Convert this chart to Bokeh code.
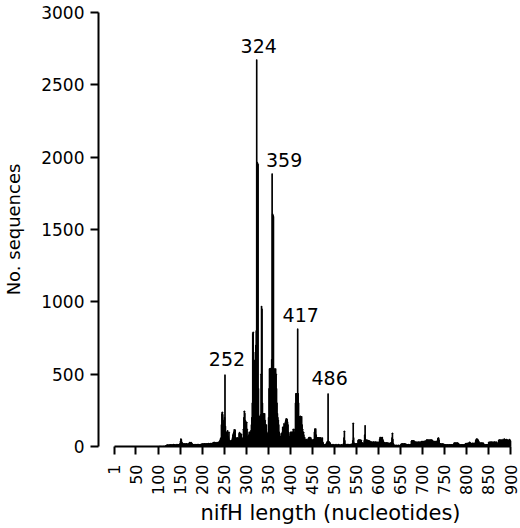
import math
from bokeh.plotting import figure
from bokeh.models import Range1d, FixedTicker, ColumnDataSource, Title
from bokeh.core.properties import value
from bokeh.embed import file_html
from bokeh.resources import INLINE

# ---- data: number of sequences per nifH length (nucleotides) ----
counts_101_200 = [
    0, 0, 1, 0, 0, 1, 0, 0, 1, 0,
    0, 1, 0, 1, 0, 1, 2, 6, 8, 10,
    9, 12, 10, 8, 11, 12, 10, 9, 13, 10,
    12, 11, 9, 12, 14, 10, 11, 13, 12, 10,
    9, 12, 14, 11, 10, 12, 13, 11, 15, 20,
    35, 53, 48, 30, 22, 18, 18, 16, 20, 17,
    19, 15, 18, 20, 16, 18, 17, 15, 19, 18,
    24, 28, 27, 26, 29, 25, 22, 12, 14, 11,
    13, 12, 10, 14, 12, 11, 13, 12, 15, 11,
    12, 14, 13, 12, 11, 13, 14, 15, 16, 18,
]
counts_201_300 = [
    18, 17, 19, 16, 18, 20, 17, 19, 18, 16,
    20, 19, 18, 17, 21, 19, 18, 20, 22, 19,
    18, 21, 20, 22, 26, 28, 27, 29, 28, 26,
    25, 22, 25, 28, 24, 27, 30, 26, 32, 38,
    45, 55, 60, 150, 226, 237, 220, 180, 150, 120,
    200, 495, 140, 100, 99, 95, 99, 110, 70, 60,
    99, 45, 39, 35, 39, 30, 45, 39, 60, 80,
    90, 100, 117, 110, 115, 60, 62, 55, 40, 45,
    62, 55, 50, 90, 97, 80, 90, 70, 85, 60,
    53, 50, 60, 120, 200, 244, 230, 180, 150, 168,
]
counts_301_400 = [
    168, 120, 62, 70, 62, 80, 100, 95, 100, 90,
    110, 150, 200, 300, 780, 790, 650, 594, 580, 594,
    600, 700, 800, 2673, 1965, 1960, 1950, 400, 203, 200,
    210, 203, 220, 500, 968, 950, 300, 228, 228, 228,
    200, 228, 180, 150, 120, 150, 100, 90, 62, 80,
    200, 400, 537, 537, 537, 540, 537, 600, 1885, 1608,
    1600, 1590, 537, 530, 537, 520, 537, 500, 400, 300,
    228, 200, 180, 150, 100, 90, 62, 70, 62, 90,
    80, 100, 134, 120, 134, 159, 140, 150, 170, 184,
    193, 184, 190, 170, 150, 100, 90, 62, 70, 62,
]
counts_401_500 = [
    99, 99, 99, 80, 99, 99, 120, 99, 90, 99,
    120, 300, 366, 366, 366, 366, 813, 366, 300, 207,
    207, 207, 210, 207, 200, 207, 150, 120, 99, 99,
    80, 62, 62, 48, 40, 45, 50, 48, 40, 45,
    55, 60, 64, 60, 64, 50, 60, 46, 40, 46,
    40, 46, 44, 50, 100, 122, 110, 122, 80, 62,
    60, 62, 50, 60, 62, 55, 60, 62, 40, 60,
    50, 45, 60, 30, 20, 15, 12, 10, 12, 15,
    12, 20, 25, 30, 37, 364, 37, 30, 30, 25,
    20, 14, 10, 12, 8, 10, 14, 12, 9, 11,
]
counts_501_600 = [
    10, 12, 8, 14, 10, 7, 12, 9, 11, 14,
    8, 10, 12, 9, 7, 11, 13, 10, 8, 12,
    20, 60, 106, 40, 14, 12, 14, 10, 12, 15,
    11, 9, 14, 12, 10, 13, 15, 11, 12, 16,
    20, 40, 161, 60, 25, 18, 20, 18, 15, 20,
    17, 19, 16, 40, 46, 44, 46, 42, 46, 38,
    44, 30, 23, 25, 20, 22, 24, 40, 80, 145,
    46, 40, 46, 39, 42, 44, 39, 40, 36, 39,
    35, 30, 28, 32, 30, 26, 31, 29, 33, 30,
    27, 30, 32, 28, 30, 29, 31, 27, 30, 28,
]
counts_601_700 = [
    28, 30, 50, 64, 60, 64, 58, 62, 64, 50,
    40, 30, 25, 28, 22, 26, 24, 20, 27, 23,
    25, 21, 24, 22, 20, 23, 21, 25, 22, 30,
    60, 92, 50, 20, 15, 8, 7, 9, 6, 8,
    7, 10, 6, 7, 8, 9, 7, 6, 8, 10,
    12, 18, 15, 20, 17, 19, 16, 18, 20, 15,
    18, 17, 16, 12, 10, 13, 11, 12, 14, 10,
    12, 11, 13, 15, 35, 41, 38, 41, 36, 40,
    39, 33, 30, 28, 32, 30, 27, 31, 29, 30,
    28, 32, 30, 26, 31, 29, 30, 35, 33, 36,
]
counts_701_800 = [
    34, 36, 33, 35, 37, 34, 35, 38, 44, 46,
    42, 46, 45, 43, 46, 44, 41, 46, 45, 42,
    46, 44, 40, 35, 33, 36, 34, 35, 32, 36,
    34, 35, 33, 40, 55, 60, 58, 45, 18, 16,
    20, 17, 18, 15, 19, 18, 16, 17, 15, 12,
    10, 13, 11, 12, 9, 13, 12, 11, 10, 12,
    13, 11, 12, 10, 13, 12, 11, 12, 10, 13,
    14, 25, 23, 26, 24, 25, 22, 25, 26, 24,
    23, 20, 12, 11, 13, 10, 12, 12, 11, 13,
    12, 10, 12, 11, 13, 12, 14, 20, 21, 19,
]
counts_801_900 = [
    21, 20, 23, 19, 22, 25, 30, 28, 21, 20,
    22, 19, 21, 23, 20, 22, 21, 24, 20, 22,
    40, 48, 53, 50, 52, 46, 40, 35, 25, 24,
    26, 22, 25, 23, 26, 24, 22, 25, 20, 12,
    11, 13, 12, 10, 12, 13, 11, 12, 14, 18,
    30, 28, 31, 29, 30, 32, 28, 30, 29, 31,
    30, 27, 30, 32, 29, 28, 30, 31, 29, 18,
    16, 20, 40, 46, 44, 46, 42, 45, 46, 38,
    35, 42, 50, 38, 45, 53, 40, 36, 48, 44,
    50, 38, 42, 47, 35, 40, 45, 50, 42, 38,
]

x_tick_values = [1, 50, 100, 150, 200, 250, 300, 350, 400, 450,
                 500, 550, 600, 650, 700, 750, 800, 850, 900]
y_tick_values = [0, 500, 1000, 1500, 2000, 2500, 3000]
peak_lengths = [252, 324, 359, 417, 486]
x_title = "nifH length (nucleotides)"
y_title = "No. sequences"

# ---- assemble ----
chunks = [(101, counts_101_200), (201, counts_201_300), (301, counts_301_400),
          (401, counts_401_500), (501, counts_501_600), (601, counts_601_700),
          (701, counts_701_800), (801, counts_801_900)]
lengths, counts = [], []
for start, chunk in chunks:
    lengths += list(range(start, start + len(chunk)))
    counts += chunk
lookup = dict(zip(lengths, counts))

FONT = "DejaVu Sans"

p = figure(width=520, height=528, output_backend="svg", toolbar_location=None,
           x_range=Range1d(-35.05, 911.3), y_range=Range1d(0, 3000),
           min_border_left=95, min_border_right=5, min_border_top=12,
           min_border_bottom=82)
p.outline_line_color = None
p.xgrid.visible = False
p.ygrid.visible = False
p.background_fill_color = "white"
p.border_fill_color = "white"

p.vbar(x=lengths, top=counts, bottom=0, width=1,
       fill_color="black", line_color="black", line_width=1.2)

# peak labels (offsets in screen pixels)
peak_src = ColumnDataSource(dict(
    x=peak_lengths,
    y=[lookup[k] for k in peak_lengths],
    label=[str(k) for k in peak_lengths],
    dx=[2, 2, 12, 3, 1.5],
    dy=[-15.5, -13.5, -13.5, -13.5, -15.5],
))
p.text(x="x", y="y", text="label", x_offset="dx", y_offset="dy", source=peak_src,
       text_align="center", text_baseline="alphabetic",
       text_font=value(FONT), text_font_size="19px", text_color="black")

# x axis
xa = p.xaxis[0]
xa.ticker = FixedTicker(ticks=x_tick_values)
xa.bounds = (1, 900)
xa.major_label_orientation = math.pi / 2
xa.major_label_text_font = FONT
xa.major_label_text_font_size = "16px"
xa.major_label_text_color = "black"
xa.major_label_standoff = 10
xa.axis_line_width = 2
xa.axis_line_color = "black"
xa.major_tick_line_width = 2
xa.major_tick_line_color = "black"
xa.major_tick_in = 0
xa.major_tick_out = 8
xa.minor_tick_line_color = None

# y axis
ya = p.yaxis[0]
ya.ticker = FixedTicker(ticks=y_tick_values)
ya.bounds = (0, 3000)
ya.major_label_text_font = FONT
ya.major_label_text_font_size = "17px"
ya.major_label_text_color = "black"
ya.major_label_standoff = 6
ya.axis_line_width = 2
ya.axis_line_color = "black"
ya.major_tick_line_width = 2
ya.major_tick_line_color = "black"
ya.major_tick_in = 0
ya.major_tick_out = 8
ya.minor_tick_line_color = None
ya.axis_label = y_title
ya.axis_label_text_font = FONT
ya.axis_label_text_font_size = "18px"
ya.axis_label_text_font_style = "normal"
ya.axis_label_text_color = "black"
ya.axis_label_standoff = 14

# x axis title, as a title panel below the axis (shifted right like the reference)
p.add_layout(Title(text=x_title, align="left", offset=102, standoff=0,
                   text_font=FONT, text_font_size="21px",
                   text_font_style="normal", text_color="black"), "below")

open("out.html", "w").write(file_html(p, INLINE))
